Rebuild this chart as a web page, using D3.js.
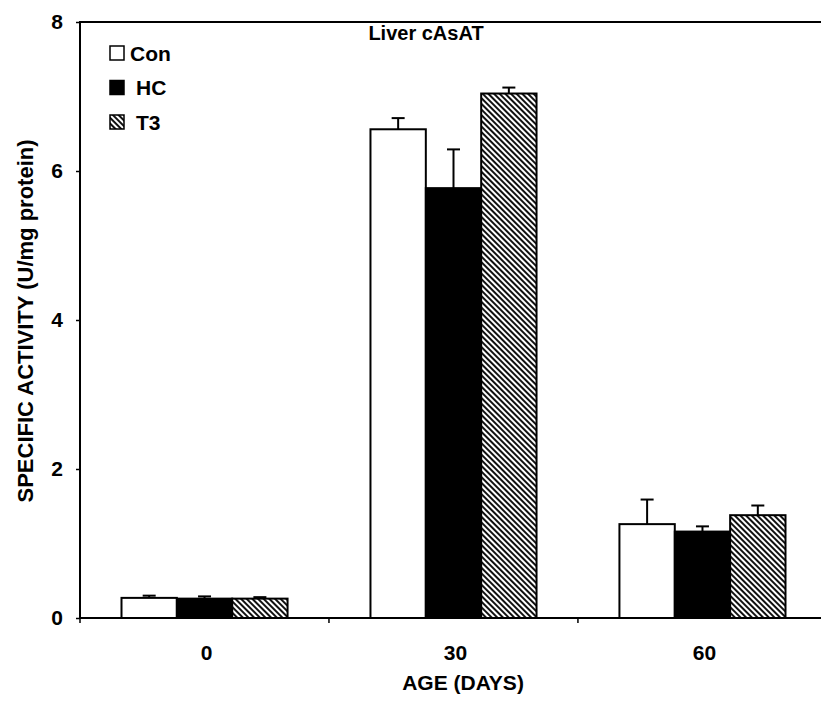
<!DOCTYPE html>
<html>
<head>
<meta charset="utf-8">
<script src="https://cdn.jsdelivr.net/npm/d3@7"></script>
<style>
  body { margin: 0; background: #fff; }
  svg { display: block; font-family: "Liberation Sans", Arial, sans-serif; }
</style>
</head>
<body>
<svg width="821" height="711"></svg>
<script>
// chart data
var ages = ['0', '30', '60'];
var groups = ['Con', 'HC', 'T3'];
var conValues = [0.27, 6.56, 1.26];
var conErrors = [0.03, 0.15, 0.33];
var hcValues = [0.26, 5.77, 1.16];
var hcErrors = [0.03, 0.52, 0.07];
var t3Values = [0.26, 7.04, 1.38];
var t3Errors = [0.02, 0.08, 0.13];
var yTicks = [0, 2, 4, 6, 8];

var svg = d3.select('svg');
var mLeft = 80, mRight = 827, mTop = 22, mBottom = 618;

var rows = [];
ages.forEach(function(a, i){
  rows.push({age: a, group: 'Con', v: conValues[i], e: conErrors[i]});
  rows.push({age: a, group: 'HC', v: hcValues[i], e: hcErrors[i]});
  rows.push({age: a, group: 'T3', v: t3Values[i], e: t3Errors[i]});
});

var xScale = d3.scaleBand()
  .domain(ages)
  .range([mLeft, mRight])
  .paddingInner(0.333)
  .paddingOuter(0.1667);
var xGroup = d3.scaleBand()
  .domain(groups)
  .range([0, xScale.bandwidth()]);
var yScale = d3.scaleLinear()
  .domain([0, 8])
  .range([mBottom, mTop]);

// hatch pattern for T3
var defs = svg.append('defs');
var pat = defs.append('pattern')
  .attr('id', 'hatch')
  .attr('patternUnits', 'userSpaceOnUse')
  .attr('width', 4)
  .attr('height', 4)
  .attr('patternTransform', 'rotate(45)');
pat.append('rect').attr('width', 4).attr('height', 4).attr('fill', '#fff');
pat.append('rect').attr('width', 4).attr('height', 2).attr('fill', '#111');

var fill = {Con: '#fff', HC: '#000', T3: 'url(#hatch)'};

// bars
svg.selectAll('rect.bar')
  .data(rows)
  .enter()
  .append('rect')
  .attr('class', 'bar')
  .attr('x', function(d){ return xScale(d.age) + xGroup(d.group); })
  .attr('y', function(d){ return yScale(d.v); })
  .attr('width', xGroup.bandwidth())
  .attr('height', function(d){ return yScale(0) - yScale(d.v); })
  .attr('fill', function(d){ return fill[d.group]; })
  .attr('stroke', '#000')
  .attr('stroke-width', 2);

// error bars (upper only)
var eb = svg.selectAll('g.err')
  .data(rows)
  .enter()
  .append('g')
  .attr('class', 'err')
  .attr('transform', function(d){
    return 'translate(' + (xScale(d.age) + xGroup(d.group) + xGroup.bandwidth() / 2) + ',0)';
  });
eb.append('line')
  .attr('x1', 0).attr('x2', 0)
  .attr('y1', function(d){ return yScale(d.v); })
  .attr('y2', function(d){ return yScale(d.v + d.e); })
  .attr('stroke', '#000').attr('stroke-width', 2);
eb.append('line')
  .attr('x1', -6.5).attr('x2', 6.5)
  .attr('y1', function(d){ return yScale(d.v + d.e); })
  .attr('y2', function(d){ return yScale(d.v + d.e); })
  .attr('stroke', '#000').attr('stroke-width', 2);

// frame
svg.append('path')
  .attr('d', 'M' + mRight + ',' + mTop + 'H' + mLeft + 'V' + mBottom + 'H' + mRight)
  .attr('fill', 'none')
  .attr('stroke', '#000')
  .attr('stroke-width', 2);

// y axis
var yAxis = d3.axisLeft(yScale)
  .tickValues(yTicks)
  .tickSize(4)
  .tickPadding(13)
  .tickFormat(d3.format('d'));
svg.append('g')
  .attr('transform', 'translate(' + mLeft + ',0)')
  .call(yAxis)
  .call(function(g){
    g.select('.domain').remove();
    g.selectAll('line').attr('stroke-width', 1.5);
    g.selectAll('text')
      .attr('font-size', 21)
      .attr('font-weight', 'bold')
      .attr('font-family', '"Liberation Sans", Arial, sans-serif')
      .attr('fill', '#000');
  });

// x axis: ticks sit between groups
var xTickPos = [mLeft, mLeft + xScale.step(), mLeft + 2 * xScale.step()];
svg.selectAll('line.xt')
  .data(xTickPos)
  .enter()
  .append('line')
  .attr('class', 'xt')
  .attr('x1', function(d){ return d; })
  .attr('x2', function(d){ return d; })
  .attr('y1', mBottom)
  .attr('y2', mBottom + 5)
  .attr('stroke', '#000')
  .attr('stroke-width', 1.5);
svg.selectAll('text.xl')
  .data(ages)
  .enter()
  .append('text')
  .attr('class', 'xl')
  .attr('x', function(d){ return xScale(d) + xScale.bandwidth() / 2 + 2; })
  .attr('y', 660)
  .attr('text-anchor', 'middle')
  .attr('font-size', 21)
  .attr('font-weight', 'bold')
  .text(function(d){ return d; });

// axis titles
svg.append('text')
  .attr('x', 463)
  .attr('y', 690)
  .attr('text-anchor', 'middle')
  .attr('font-size', 21)
  .attr('font-weight', 'bold')
  .text('AGE (DAYS)');
svg.append('text')
  .attr('transform', 'translate(33,321) rotate(-90)')
  .attr('text-anchor', 'middle')
  .attr('font-size', 22)
  .attr('font-weight', 'bold')
  .text('SPECIFIC ACTIVITY (U/mg protein)');
svg.append('text')
  .attr('x', 426)
  .attr('y', 40)
  .attr('text-anchor', 'middle')
  .attr('font-size', 20)
  .attr('font-weight', 'bold')
  .text('Liver cAsAT');

// legend
var leg = svg.selectAll('g.leg')
  .data(groups)
  .enter()
  .append('g')
  .attr('class', 'leg')
  .attr('transform', function(d, i){ return 'translate(110,' + (53 + i * 34.5) + ')'; });
leg.append('rect')
  .attr('x', 0)
  .attr('y', -7)
  .attr('width', 14)
  .attr('height', 14)
  .attr('fill', function(d){ return fill[d]; })
  .attr('stroke', '#000')
  .attr('stroke-width', 1.5);
leg.append('text')
  .attr('x', function(d){ return d === 'Con' ? 20 : 26; })
  .attr('y', 7.5)
  .attr('font-size', 21)
  .attr('font-weight', 'bold')
  .text(function(d){ return d; });
</script>
</body>
</html>
